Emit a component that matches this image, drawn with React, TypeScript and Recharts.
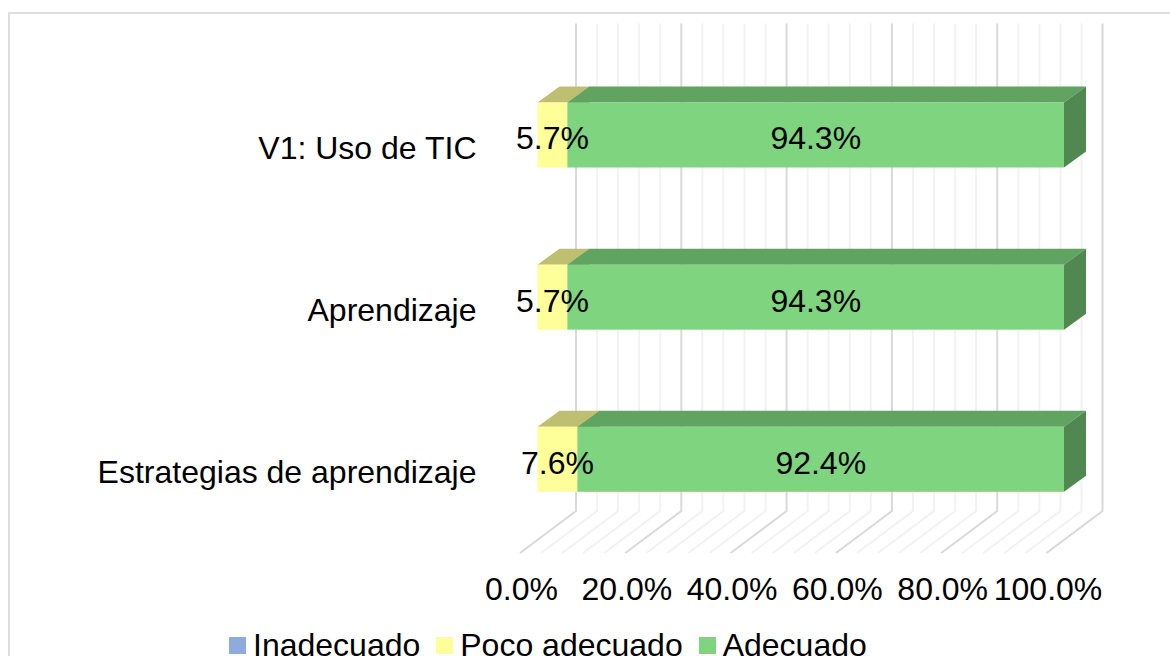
import { Bar, BarChart, LabelList, Legend, ReferenceLine, XAxis, YAxis } from "recharts";

const categorias = ["V1: Uso de TIC", "Aprendizaje", "Estrategias de aprendizaje"];
const inadecuado = [0, 0, 0];
const pocoAdecuado = [0.057, 0.057, 0.076];
const adecuado = [0.943, 0.943, 0.924];
const ticksEje = [0, 0.2, 0.4, 0.6, 0.8, 1];
const lineasGuia = [
  0, 0.04, 0.08, 0.12, 0.16, 0.2, 0.24, 0.28, 0.32, 0.36, 0.4, 0.44, 0.48, 0.52, 0.56, 0.6, 0.64,
  0.68, 0.72, 0.76, 0.8, 0.84, 0.88, 0.92, 0.96, 1,
];

const data = categorias.map((nombre, i) => ({
  nombre,
  inadecuado: inadecuado[i],
  pocoAdecuado: pocoAdecuado[i],
  adecuado: adecuado[i],
}));

const FUENTE = "'Liberation Sans', Arial, sans-serif";
const fmt = (v: any) => `${(Number(v) * 100).toFixed(1)}%`;

// barra con cara superior y lateral, como el 3D de Excel
const Barra3D = ({ x, y, width, height, fill, top, side }: any) => {
  if (!width || width <= 0) return null;
  const dx = 22;
  const dy = 16;
  return (
    <g>
      <path d={`M${x},${y}L${x + dx},${y - dy}L${x + width + dx},${y - dy}L${x + width},${y}Z`} fill={top} />
      <path
        d={`M${x + width},${y}L${x + width + dx},${y - dy}L${x + width + dx},${y + height - dy}L${x + width},${y + height}Z`}
        fill={side}
      />
      <rect x={x} y={y} width={width} height={height} fill={fill} />
    </g>
  );
};

const lineaGuia = (mayor: boolean) => (props: any) => {
  const { x1, y1, y2 } = props;
  const arriba = Math.min(y1, y2);
  const abajo = Math.max(y1, y2);
  const xPared = x1 + 38.5;
  return (
    <polyline
      points={`${xPared},${arriba - 30} ${xPared},${abajo - 29} ${x1 - 17.5},${abajo + 13}`}
      fill="none"
      stroke={mayor ? "#d9d9d9" : "#f2f2f2"}
      strokeWidth={2}
    />
  );
};

const TickCategoria = ({ x, y, payload }: any) => (
  <text x={x - 55} y={y + 24} textAnchor="end" fontSize={32} fontFamily={FUENTE} fill="#000">
    {payload.value}
  </text>
);

const TickValor = ({ x, y, payload }: any) => (
  <text x={x - 16} y={y + 52} textAnchor="middle" fontSize={32} fontFamily={FUENTE} fill="#000">
    {fmt(payload.value)}
  </text>
);

const Leyenda = ({ payload }: any) => (
  <div style={{ display: "flex", fontFamily: FUENTE, fontSize: 32, lineHeight: "34px", color: "#000" }}>
    {(payload || []).map((p: any) => (
      <div key={p.value} style={{ display: "flex", alignItems: "center", marginRight: 16 }}>
        <span style={{ width: 17, height: 17, background: p.color, marginRight: 7 }} />
        {p.value}
      </div>
    ))}
  </div>
);

export default function App() {
  return (
    <div style={{ position: "absolute", left: 0, top: 0, width: 1170, height: 656, overflow: "hidden", background: "#fff" }}>
      <div
        style={{
          position: "absolute",
          left: 8,
          top: 12,
          width: 1170,
          height: 660,
          borderTop: "2px solid #dedede",
          borderLeft: "2px solid #dedede",
        }}
      />
      <BarChart
        width={1170}
        height={656}
        layout="vertical"
        data={data}
        barSize={65}
        barCategoryGap={0}
        margin={{ top: 53.5, right: 106, bottom: 56, left: 0 }}
        style={{ position: "absolute", left: 0, top: 0 }}
      >
        <XAxis
          type="number"
          domain={[0, 1]}
          ticks={ticksEje}
          height={60}
          axisLine={false}
          tickLine={false}
          tick={<TickValor />}
          interval={0}
        />
        <YAxis
          type="category"
          dataKey="nombre"
          width={537.5}
          axisLine={false}
          tickLine={false}
          tick={<TickCategoria />}
          tickMargin={0}
          interval={0}
        />
        {lineasGuia.map((v, i) => (
          <ReferenceLine key={v} x={v} zIndex={-50} shape={lineaGuia(i % 5 === 0)} />
        ))}
        <Legend
          verticalAlign="middle"
          layout="horizontal"
          itemSorter={null}
          content={<Leyenda />}
          wrapperStyle={{ left: 229, top: 628, width: "auto" }}
        />
        <Bar
          dataKey="inadecuado"
          name="Inadecuado"
          stackId="a"
          fill="#8faadc"
          isAnimationActive={false}
          shape={<Barra3D top="#6b80a5" side="#566a8c" />}
        />
        <Bar
          dataKey="pocoAdecuado"
          name="Poco adecuado"
          stackId="a"
          fill="#ffff99"
          isAnimationActive={false}
          shape={<Barra3D top="#bfbf72" side="#a6a663" />}
        >
          <LabelList dataKey="pocoAdecuado" position="center" formatter={fmt} fontSize={32} fontFamily={FUENTE} fill="#000" dy={3} />
        </Bar>
        <Bar
          dataKey="adecuado"
          name="Adecuado"
          stackId="a"
          fill="#7fd57f"
          isAnimationActive={false}
          shape={<Barra3D top="#61a361" side="#518751" />}
        >
          <LabelList dataKey="adecuado" position="center" formatter={fmt} fontSize={32} fontFamily={FUENTE} fill="#000" dy={3} />
        </Bar>
      </BarChart>
    </div>
  );
}
